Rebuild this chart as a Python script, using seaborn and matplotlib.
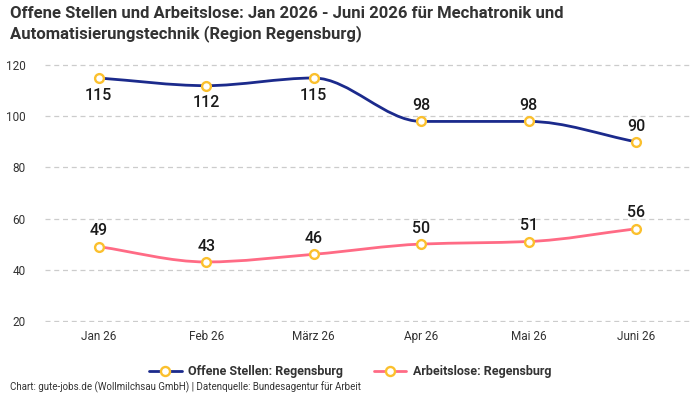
import numpy as np
import pandas as pd
import seaborn as sns
import matplotlib
matplotlib.use("Agg")
import matplotlib.pyplot as plt
from matplotlib.path import Path
from matplotlib.patches import PathPatch
from matplotlib.lines import Line2D

months = ["Jan 26", "Feb 26", "März 26", "Apr 26", "Mai 26", "Juni 26"]
offene = [115, 112, 115, 98, 98, 90]
arbeitslose = [49, 43, 46, 50, 51, 56]
series_names = ["Offene Stellen: Regensburg", "Arbeitslose: Regensburg"]
yticks = [20, 40, 60, 80, 100, 120]

sns.set_theme(style="white")
plt.rcParams['font.family'] = ['Roboto', 'DejaVu Sans']

NAVY = "#1b2a8c"
PINK = "#ff6b85"
GOLD = "#fbc02d"

df = pd.DataFrame({
    "month": months * 2,
    "x": list(range(len(months))) * 2,
    "value": offene + arbeitslose,
    "series": [series_names[0]] * len(months) + [series_names[1]] * len(months),
})

fig = plt.figure(figsize=(7, 4), dpi=100)
ax = fig.add_axes([0.064, 0.195, 0.922, 0.6675])


def monotone_path(xs, ys):
    xs = np.asarray(xs, float); ys = np.asarray(ys, float)
    n = len(xs)
    h = np.diff(xs); d = np.diff(ys) / h
    m = np.zeros(n)
    m[0] = d[0]; m[-1] = d[-1]
    for i in range(1, n - 1):
        if d[i - 1] * d[i] <= 0:
            m[i] = 0
        else:
            m[i] = 3 * (h[i - 1] + h[i]) / ((2 * h[i] + h[i - 1]) / d[i - 1] + (h[i] + 2 * h[i - 1]) / d[i])
    verts = [(xs[0], ys[0])]; codes = [Path.MOVETO]
    for i in range(n - 1):
        dx = h[i] / 3
        verts += [(xs[i] + dx, ys[i] + m[i] * dx), (xs[i + 1] - dx, ys[i + 1] - m[i + 1] * dx), (xs[i + 1], ys[i + 1])]
        codes += [Path.CURVE4] * 3
    return Path(verts, codes)


colors = {series_names[0]: NAVY, series_names[1]: PINK}
for name in series_names:
    sub = df[df.series == name]
    ax.add_patch(PathPatch(monotone_path(sub.x, sub.value), facecolor="none",
                           edgecolor=colors[name], lw=2, zorder=2))

sns.scatterplot(data=df, x="x", y="value", ax=ax, color="white", edgecolor=GOLD,
                linewidth=1.7, s=40, zorder=3, legend=False)

lab_kw = dict(textcoords="offset points", ha="center", fontsize=11.5, color="#1a1a1a",
              fontweight="medium")
for i, v in enumerate(offene):
    if i < 3:
        ax.annotate(str(v), (i, v), xytext=(0, -7), va="top", **lab_kw)
    else:
        ax.annotate(str(v), (i, v), xytext=(0, 6), va="bottom", **lab_kw)
for i, v in enumerate(arbeitslose):
    ax.annotate(str(v), (i, v), xytext=(0, 6), va="bottom", **lab_kw)

ax.set_xlim(-0.5, 5.5)
ax.set_ylim(19.5, 124)
ax.set_yticks(yticks)
ax.set_xticks(range(len(months)))
ax.set_xticklabels(months)
ax.set_xlabel(""); ax.set_ylabel("")
ax.tick_params(axis="both", length=0, labelsize=8.5, labelcolor="#333333")
ax.tick_params(axis="x", pad=6)
ax.tick_params(axis="y", pad=14)
ax.grid(axis="y", color="#cccccc", linestyle=(0, (4, 3)), lw=0.9)
ax.set_axisbelow(True)
for s in ax.spines.values():
    s.set_visible(False)

fig.text(0.014, 0.985, "Offene Stellen und Arbeitslose: Jan 2026 - Juni 2026 für Mechatronik und\nAutomatisierungstechnik (Region Regensburg)",
         ha="left", va="top", fontsize=12, fontweight="bold", color="#333333", linespacing=1.3)

handles = [Line2D([0], [0], color=colors[n], lw=2, marker="o", markersize=6.5,
                  markerfacecolor="white", markeredgecolor=GOLD, markeredgewidth=1.7) for n in series_names]
leg = fig.legend(handles, series_names, loc="center", bbox_to_anchor=(0.5, 0.07), ncol=2,
                 frameon=False, fontsize=9, handlelength=2.6, columnspacing=2.5, handletextpad=0.5)
for t in leg.get_texts():
    t.set_fontweight("bold"); t.set_color("#333333")

fig.text(0.014, 0.018, "Chart: gute-jobs.de (Wollmilchsau GmbH) | Datenquelle: Bundesagentur für Arbeit",
         ha="left", va="bottom", fontsize=7, color="#333333")

fig.savefig("out.png", dpi=100)
